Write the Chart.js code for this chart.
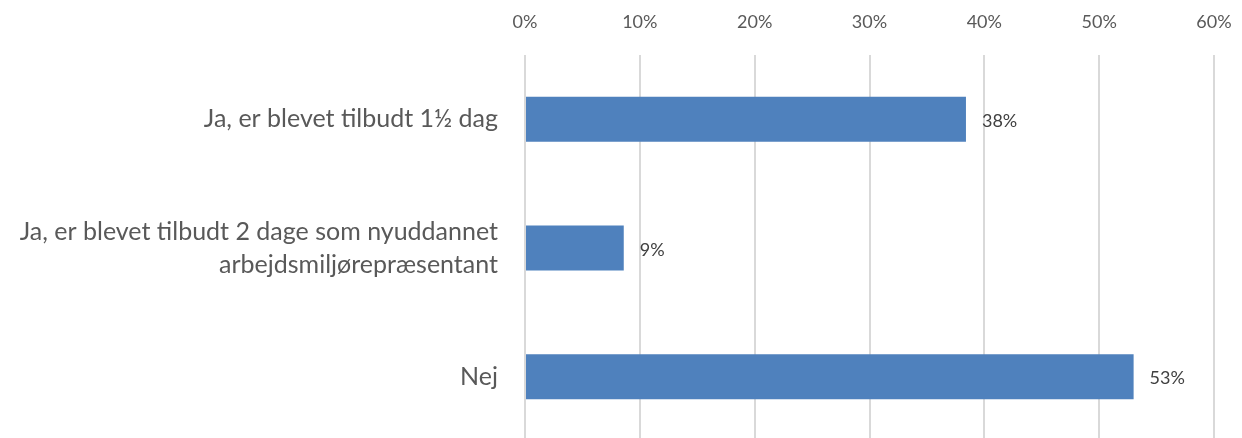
<!DOCTYPE html>
<html>
<head>
<meta charset="utf-8">
<script src="https://cdn.jsdelivr.net/npm/chart.js@4.4.1/dist/chart.umd.min.js"></script>
<style>
  html, body { margin: 0; padding: 0; background: #ffffff; overflow: hidden; }
  #wrap { width: 1242px; height: 441px; position: relative; }
</style>
</head>
<body>
<div id="wrap"><canvas id="c"></canvas></div>
<script>
const categories = [
  "Ja, er blevet tilbudt 1½ dag",
  ["Ja, er blevet tilbudt 2 dage som nyuddannet", "arbejdsmiljørepræsentant"],
  "Nej"
];
const values = [38.4, 8.6, 53.0];
const valueLabels = ["38%", "9%", "53%"];
const tickValues = [0, 10, 20, 30, 40, 50, 60];

const FONT = "Lato, 'Open Sans', sans-serif";

const dataLabelPlugin = {
  id: 'dataLabels',
  afterDatasetsDraw(chart) {
    const ctx = chart.ctx;
    const meta = chart.getDatasetMeta(0);
    ctx.save();
    ctx.font = "18px " + FONT;
    ctx.fillStyle = "#404040";
    ctx.textAlign = "left";
    ctx.textBaseline = "middle";
    meta.data.forEach((bar, i) => {
      ctx.fillText(valueLabels[i], bar.x + 16, bar.y + 2);
    });
    ctx.restore();
  }
};

new Chart(document.getElementById('c'), {
  type: 'bar',
  data: {
    labels: categories,
    datasets: [{
      data: values,
      backgroundColor: '#4F81BD',
      borderWidth: 0,
      categoryPercentage: 1.0,
      barPercentage: 0.35
    }]
  },
  options: {
    indexAxis: 'y',
    responsive: true,
    maintainAspectRatio: false,
    animation: false,
    layout: { padding: { left: 0, right: 28, top: 0, bottom: 0 } },
    plugins: { legend: { display: false }, tooltip: { enabled: false } },
    scales: {
      x: {
        position: 'top',
        min: 0,
        max: 60,
        afterBuildTicks(scale) { scale.ticks = tickValues.map(v => ({ value: v })); },
        afterFit(scale) { scale.height = 55; scale.paddingLeft = 0; scale.paddingRight = 0; },
        grid: { color: '#D9D9D9', lineWidth: 2, drawTicks: false },
        border: { display: false },
        ticks: {
          color: '#595959',
          font: { family: FONT, size: 18 },
          padding: 22,
          callback: (v) => v + '%'
        }
      },
      y: {
        afterFit(scale) { scale.width = 525; scale.paddingTop = 0; scale.paddingBottom = 0; },
        grid: { display: false },
        border: { display: false },
        ticks: {
          color: '#595959',
          font: { family: FONT, size: 25, lineHeight: 1.32 },
          padding: 19
        }
      }
    }
  },
  plugins: [dataLabelPlugin]
});
</script>
</body>
</html>
